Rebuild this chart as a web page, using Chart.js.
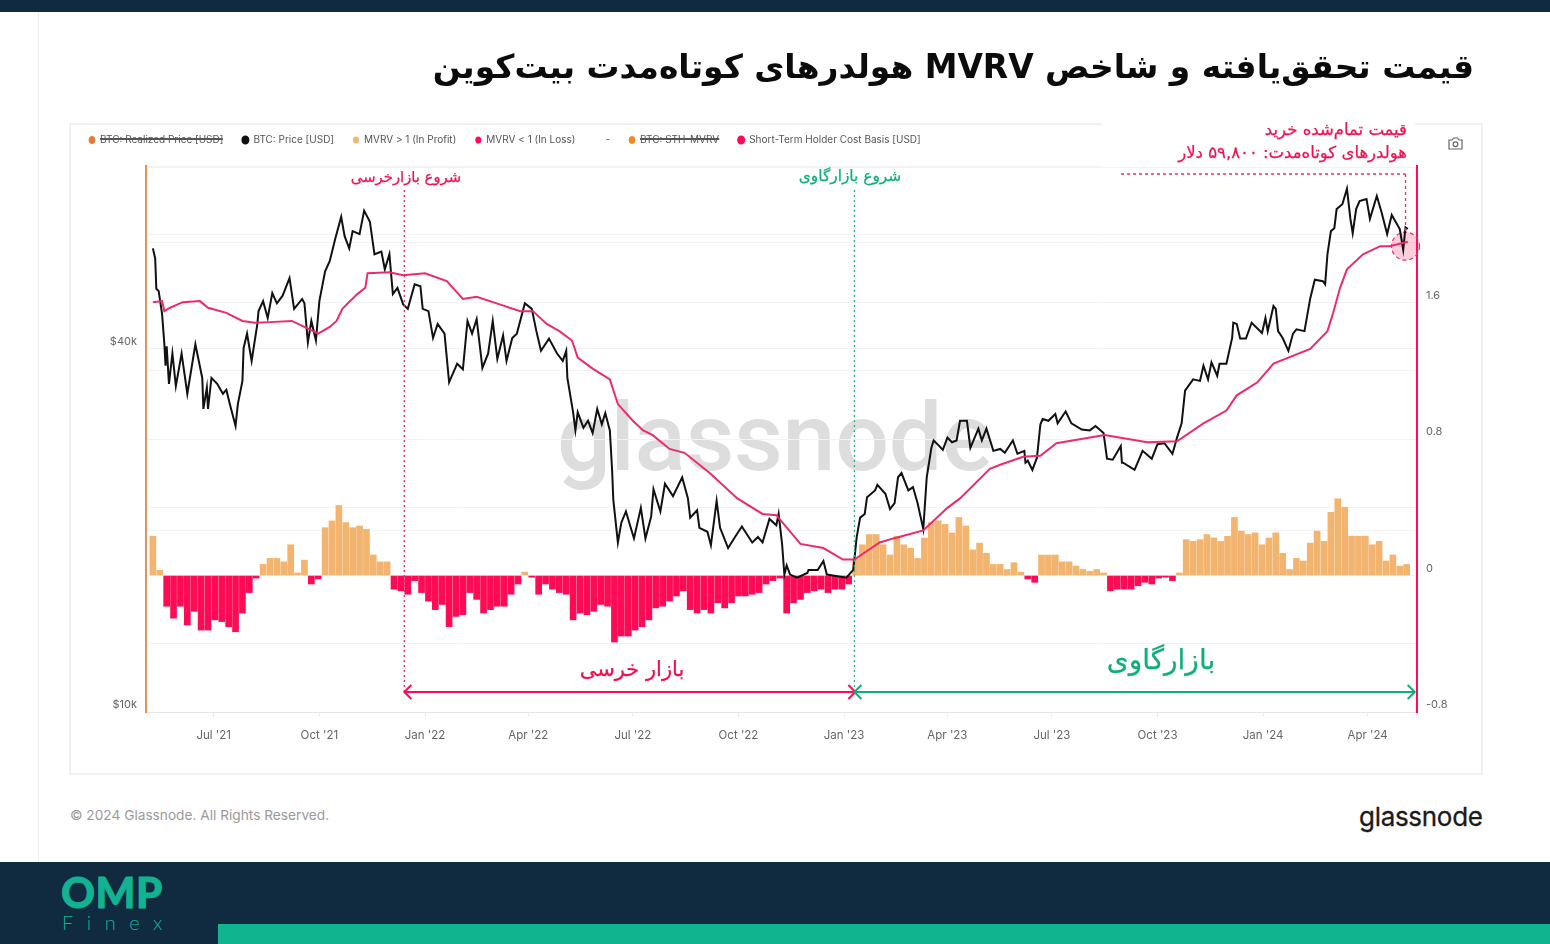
<!DOCTYPE html>
<html lang="fa">
<head>
<meta charset="utf-8">
<title>MVRV</title>
<script src="https://cdn.jsdelivr.net/npm/chart.js@4/dist/chart.umd.js"></script>
<style>
html,body{margin:0;padding:0;width:1550px;height:944px;overflow:hidden;background:#fff;}
.abs{position:absolute;white-space:nowrap;}
.fa{font-family:"DejaVu Sans","Noto Sans",sans-serif;direction:rtl;-webkit-text-stroke:0.25px currentColor;}
#chart{position:absolute;left:0;top:0;z-index:2;}
</style>
</head>
<body>
<div class="abs" style="left:0;top:0;width:1550px;height:12px;background:#102a3f"></div>
<div class="abs" style="left:0;top:862px;width:1550px;height:82px;background:#102a3f"></div>
<div class="abs" style="left:218px;top:924px;width:1332px;height:20px;background:#10b48e"></div>
<div class="abs" style="left:38px;top:12px;width:1px;height:850px;background:#eee"></div>
<div class="abs" style="left:70px;top:124px;width:1410px;height:648px;border:1px solid #eee;outline:1px solid #f4f4f4"></div>
<div class="abs" style="left:1102px;top:122px;width:313px;height:5px;background:#fff"></div>
<div class="abs" style="left:557px;top:382px;font:500 95px Roboto,sans-serif;color:#dddddd;line-height:112px;letter-spacing:-0.3px">glassnode</div>
<canvas id="chart" width="1550" height="944"></canvas>
<div class="abs" style="left:1102px;top:160px;width:314px;height:7px;background:#fff;z-index:3"></div>

<div class="abs fa" style="right:76px;top:42px;font-weight:bold;font-size:32.9px;line-height:50px;color:#0b0b0b;z-index:4;-webkit-text-stroke:0">قیمت تحقق‌یافته و شاخص MVRV هولدرهای کوتاه‌مدت بیت‌کوین</div>
<div class="abs fa" style="left:346px;width:120px;top:166px;text-align:center;font-size:14.8px;line-height:22px;color:#f0104f;z-index:4">شروع بازارخرسی</div>
<div class="abs fa" style="left:790px;width:120px;top:165px;text-align:center;font-size:15.4px;line-height:22px;color:#0fae7a;z-index:4">شروع بازارگاوی</div>
<div class="abs fa" style="left:570px;width:124px;top:654px;text-align:center;font-size:21px;line-height:30px;color:#f0104f;z-index:4">بازار خرسی</div>
<div class="abs fa" style="left:1090px;width:142px;top:642px;text-align:center;font-size:28px;line-height:36px;color:#0fae7a;z-index:4">بازارگاوی</div>
<div class="abs fa" style="right:143px;top:119px;font-size:16.5px;line-height:21px;color:#f0104f;z-index:4">قیمت تمام‌شده خرید</div>
<div class="abs fa" style="right:143px;top:142px;font-size:16.5px;line-height:21px;color:#f0104f;z-index:4">هولدرهای کوتاه‌مدت: ۵۹,۸۰۰ دلار</div>
<svg class="abs" style="left:1448px;top:137px;z-index:4" width="15" height="13" viewBox="0 0 15 13"><path d="M1 3h3l1.5-2h4L11 3h3v9H1z" fill="none" stroke="#666" stroke-width="1.2"/><circle cx="7.5" cy="7.2" r="2.4" fill="none" stroke="#666" stroke-width="1.2"/></svg>

<div class="abs" style="left:70px;top:806px;font:13.7px Inter,sans-serif;color:#9a9a9a;line-height:18px">© 2024 Glassnode. All Rights Reserved.</div>
<div class="abs" style="left:1359px;top:799px;font:400 26px Inter,sans-serif;color:#1a1a1a;line-height:36px;letter-spacing:-0.3px;-webkit-text-stroke:0.3px #1a1a1a">glassnode</div>
<div class="abs" style="left:61px;top:868px;font:900 42px/48px Lato,sans-serif;color:#12b392;letter-spacing:0.5px;-webkit-text-stroke:0.8px #12b392">OMP</div>
<div class="abs" style="left:62px;top:910px;font:300 20px/24px Lato,sans-serif;color:#12b392;letter-spacing:13.5px">Finex</div>

<script>
const tickDays = [53,145,237,327,418,510,602,692,783,875,967,1058];
const tickLabels = ["Jul '21","Oct '21","Jan '22","Apr '22","Jul '22","Oct '22","Jan '23","Apr '23","Jul '23","Oct '23","Jan '24","Apr '24"];
const leftTicks = [10,20,40,60,80];
const rightLabels = [-0.8,0,0.8,1.6];
const legendNames = ["BTC: Realized Price [USD]","BTC: Price [USD]","MVRV > 1 (In Profit)","MVRV < 1 (In Loss)","-","BTC: STH-MVRV","Short-Term Holder Cost Basis [USD]"];

// days since 9 May 2021
const priceDays = [0,2,3,5,8,10,11,12,14,17,20,25,30,37,43,44,47,48,51,56,61,64,67,72,74,78,79,82,86,91,92,96,100,104,108,113,119,123,130,132,135,138,142,145,150,154,159,164,167,171,174,180,184,189,193,199,202,206,209,213,218,222,228,233,235,240,244,248,254,258,265,270,274,278,282,287,292,296,300,305,308,313,317,324,330,334,338,345,352,357,360,361,366,368,370,375,379,383,387,391,394,398,400,401,405,408,412,419,425,429,434,436,442,446,453,461,466,468,474,476,483,486,491,494,501,507,513,522,527,531,537,543,545,548,550,552,555,561,570,571,579,584,587,604,610,613,616,620,622,629,631,638,642,646,649,652,658,662,666,671,674,678,680,685,688,692,696,700,703,709,712,719,722,726,732,738,742,749,753,759,760,762,766,770,773,775,780,786,788,795,800,809,816,821,828,831,836,843,844,845,855,862,870,875,881,888,892,896,899,906,912,915,919,922,927,929,935,940,941,944,947,952,957,966,969,971,976,978,980,984,989,993,996,1003,1008,1012,1019,1021,1023,1026,1029,1031,1036,1040,1043,1045,1048,1051,1057,1060,1066,1070,1075,1079,1086,1089,1091,1093];
// USD thousands
const priceK = [58.7,56.5,50.3,49.9,45.7,40.7,37.5,40.4,35.0,39.3,34.7,39.3,33.7,40.7,35.8,31.8,34.5,31.8,35.8,35.0,33.7,34.2,32.4,29.8,32.4,35.4,40.1,42.4,38.2,44.0,46.2,48.0,45.0,49.5,47.6,49.0,52.4,46.6,48.4,47.6,41.0,44.5,41.3,48.0,53.8,55.9,61.1,66.2,61.5,58.7,62.7,62.0,67.8,65.0,57.4,58.0,54.2,57.4,49.3,50.5,47.4,46.6,51.2,50.8,46.6,46.2,41.7,44.0,42.4,35.2,37.8,37.0,44.5,42.4,44.8,37.2,39.3,44.5,38.5,42.1,38.2,41.7,42.4,47.6,46.6,42.8,39.7,41.6,39.3,38.2,39.7,35.8,31.4,29.3,31.4,29.6,30.4,29.0,31.8,30.0,31.3,29.3,25.1,22.5,19.1,20.6,21.5,19.4,21.8,19.4,21.1,23.4,21.5,23.9,22.8,24.5,22.6,21.0,21.6,20.2,19.9,18.9,22.4,20.2,18.7,19.5,20.3,19.1,19.5,19.1,20.9,20.4,21.3,19.0,16.9,17.5,16.9,16.7,17.0,17.2,17.2,17.8,16.9,16.7,17.2,19.5,21.0,21.3,22.7,23.3,23.8,23.0,21.7,22.2,24.5,24.9,23.3,23.6,22.2,20.1,24.5,27.4,28.2,27.6,27.2,28.5,28.0,28.2,30.4,30.4,27.4,29.5,28.2,29.5,27.1,27.3,26.9,28.2,26.8,27.1,25.9,26.1,25.2,26.4,30.0,30.6,30.4,31.2,30.1,31.5,30.1,29.4,29.3,29.8,29.0,26.3,26.2,27.6,25.9,25.9,25.2,27.1,26.3,27.8,27.9,26.8,28.5,30.1,34.1,35.6,35.4,37.5,35.6,38.0,36.1,37.8,37.8,41.7,44.2,44.0,41.6,41.6,44.2,42.5,45.0,42.8,47.1,46.6,42.8,41.7,39.7,42.4,43.1,42.8,48.5,52.1,51.8,51.2,57.4,62.7,63.4,68.2,69.5,73.7,65.7,62.2,68.2,70.3,70.9,65.7,71.7,67.5,62.0,66.7,63.2,58.4,63.6,63.2];

const costDays = [0,8,10,15,26,41,48,64,78,89,102,121,131,144,154,160,165,178,185,187,206,218,237,256,270,282,302,320,331,343,354,365,370,383,398,405,418,427,435,450,463,485,509,531,543,564,584,601,611,633,645,671,692,703,729,738,758,773,787,829,866,892,915,935,944,962,976,1008,1023,1028,1034,1040,1054,1069,1077,1093];
const costK = [47.8,48.0,46.2,46.8,47.8,48.0,46.8,45.9,44.5,44.2,44.3,44.5,43.6,42.4,43.5,44.5,46.6,49.3,50.5,53.4,53.6,53.0,53.4,51.8,48.4,48.8,47.4,46.2,46.2,44.0,42.8,41.3,38.7,37.1,35.6,32.4,30.4,29.3,28.8,27.3,26.9,24.9,22.6,21.3,21.2,19.0,18.7,17.9,17.9,19.1,19.4,20.0,21.8,22.6,25.3,25.7,26.5,26.6,27.9,28.8,28.0,28.1,30.1,31.6,33.5,35.2,37.8,40.0,42.8,45.9,50.5,54.2,57.4,59.2,59.2,60.2];

// STH-MVRV minus 1, one reading per 6 days
const mvrvStepDays = 6;
const mvrv = [0.23,0.03,-0.18,-0.25,-0.18,-0.29,-0.21,-0.32,-0.32,-0.26,-0.27,-0.30,-0.33,-0.22,-0.10,-0.015,0.065,0.10,0.10,0.08,0.18,0.015,0.09,-0.05,-0.02,0.28,0.32,0.41,0.31,0.28,0.29,0.27,0.12,0.08,0.08,-0.08,-0.09,-0.11,-0.03,-0.10,-0.15,-0.20,-0.17,-0.30,-0.24,-0.23,-0.10,-0.14,-0.22,-0.20,-0.18,-0.18,-0.11,-0.05,0.02,-0.01,-0.11,-0.05,-0.08,-0.10,-0.11,-0.26,-0.22,-0.23,-0.21,-0.17,-0.18,-0.39,-0.355,-0.355,-0.32,-0.30,-0.26,-0.19,-0.18,-0.15,-0.12,-0.09,-0.20,-0.22,-0.20,-0.22,-0.16,-0.19,-0.16,-0.12,-0.12,-0.11,-0.10,-0.05,-0.03,-0.015,-0.22,-0.16,-0.14,-0.10,-0.09,-0.08,-0.10,-0.08,-0.08,-0.05,0.10,0.18,0.24,0.24,0.18,0.12,0.23,0.18,0.16,0.10,0.22,0.31,0.32,0.30,0.25,0.34,0.29,0.15,0.19,0.13,0.065,0.065,0.035,0.075,0.02,-0.02,-0.04,0.12,0.12,0.12,0.08,0.08,0.055,0.035,0.025,0.035,0.015,-0.09,-0.08,-0.08,-0.08,-0.06,-0.04,-0.05,-0.015,-0.01,-0.03,0.015,0.21,0.20,0.21,0.24,0.22,0.20,0.23,0.34,0.26,0.24,0.25,0.18,0.22,0.25,0.13,0.035,0.10,0.085,0.19,0.26,0.20,0.37,0.45,0.40,0.23,0.23,0.23,0.18,0.20,0.085,0.12,0.055,0.065];

const bearStartDay = 219, bullStartDay = 611, lastDay = 1099;
const costBasisNow = 59.2, costBasisDay = 1091;

const pink = '#ff0a55', green = '#0fae7a', costPink = '#ec2a6f', black = '#111111', gold = '#f2b46e';
const pairs = (xs, ys) => xs.map((x, i) => ({x, y: ys[i]}));
const mvrvPoints = mvrv.map((v, i) => ({x: i * mvrvStepDays, y: v}));

const annot = {
  id: 'annot',
  afterLayout(c) { c.legend.top -= 11; c.legend.bottom -= 11; },
  beforeDatasetsDraw(c) {
    const x = c.scales.x, l = c.scales.yL, ctx = c.ctx;
    ctx.save();
    ctx.beginPath();
    ctx.arc(x.getPixelForValue(costBasisDay), l.getPixelForValue(costBasisNow), 14, 0, Math.PI * 2);
    ctx.fillStyle = 'rgba(255,10,85,0.2)';
    ctx.fill();
    ctx.setLineDash([4, 3]);
    ctx.lineWidth = 1.2;
    ctx.strokeStyle = costPink;
    ctx.stroke();
    ctx.restore();
  },
  afterDatasetsDraw(c) {
    const x = c.scales.x, r = c.scales.yR, ctx = c.ctx;
    const line = (x1, y1, x2, y2) => { ctx.beginPath(); ctx.moveTo(x1, y1); ctx.lineTo(x2, y2); ctx.stroke(); };
    const xBear = x.getPixelForValue(bearStartDay), xBull = x.getPixelForValue(bullStartDay), xEnd = x.getPixelForValue(lastDay);
    const yTop = r.getPixelForValue(2.26), yArrow = r.getPixelForValue(-0.683), yDash = r.getPixelForValue(2.353);
    ctx.save();
    ctx.lineWidth = 1.3;
    ctx.setLineDash([2, 3]);
    ctx.strokeStyle = costPink; line(xBear, yTop, xBear, yArrow);
    ctx.strokeStyle = '#2ab38b'; line(xBull, yTop, xBull, yArrow);
    ctx.strokeStyle = costPink;
    const xC = x.getPixelForValue(costBasisDay);
    ctx.setLineDash([3, 3]);
    line(1121, yDash, xC, yDash);
    line(xC, yDash, xC, r.getPixelForValue(2.0));
    ctx.setLineDash([]);
    ctx.lineWidth = 2;
    const head = (px, dir) => { ctx.beginPath(); ctx.moveTo(px + dir * 7, yArrow - 7); ctx.lineTo(px, yArrow); ctx.lineTo(px + dir * 7, yArrow + 7); ctx.stroke(); };
    ctx.strokeStyle = pink;
    line(xBear, yArrow, xBull, yArrow); head(xBear, 1); head(xBull + 1, -1);
    ctx.strokeStyle = green;
    line(xBull, yArrow, xEnd, yArrow); head(xBull, 1); head(xEnd, -1);
    ctx.restore();
  }
};

new Chart(document.getElementById('chart'), {
  type: 'bar',
  plugins: [annot],
  data: {
    datasets: [
      {type:'line', label:legendNames[0], data:[], hidden:true, yAxisID:'yL', borderColor:'#e8773a', backgroundColor:'#e8773a', pointBorderColor:'#e8773a', pointRadius:0},
      {type:'line', label:legendNames[1], data:pairs(priceDays, priceK), yAxisID:'yL', borderColor:black, backgroundColor:black, pointBackgroundColor:black, pointBorderColor:black, borderWidth:2, pointRadius:0, tension:0, order:2},
      {type:'bar', label:legendNames[2], data:mvrvPoints.filter(p => p.y > 0), yAxisID:'yR', backgroundColor:gold, barThickness:6, grouped:false, order:5},
      {type:'bar', label:legendNames[3], data:mvrvPoints.filter(p => p.y < 0), yAxisID:'yR', backgroundColor:pink, barThickness:6, grouped:false, order:5},
      {type:'line', label:legendNames[4], data:[], yAxisID:'yR', borderColor:'transparent', backgroundColor:'transparent', pointBackgroundColor:'transparent', pointBorderColor:'transparent', pointRadius:0},
      {type:'line', label:legendNames[5], data:[], hidden:true, yAxisID:'yR', borderColor:'#f08a1d', backgroundColor:'#f08a1d', pointBorderColor:'#f08a1d', pointRadius:0},
      {type:'line', label:legendNames[6], data:pairs(costDays, costK), yAxisID:'yL', borderColor:costPink, backgroundColor:pink, pointBackgroundColor:pink, pointBorderColor:pink, borderWidth:2, pointRadius:0, tension:0, order:1}
    ]
  },
  options: {
    responsive:false, animation:false,
    layout:{padding:{left:70,right:68,top:127,bottom:170}},
    plugins:{
      tooltip:{enabled:false},
      legend:{position:'top',align:'start',labels:{usePointStyle:true,pointStyle:'circle',pointStyleWidth:6,boxHeight:5,boxWidth:6,padding:19,color:'#555',font:{family:'Inter',size:10},sort:(a,b)=>a.datasetIndex-b.datasetIndex}}
    },
    scales:{
      x:{type:'linear',min:-6,max:1101,offset:false,
        afterBuildTicks(s){s.ticks=tickDays.map(v=>({value:v}));},
        afterFit(s){s.height=62;},
        grid:{drawOnChartArea:false,tickLength:5,color:'#ececec',offset:false},
        border:{color:'#e6e6e6'},
        ticks:{autoSkip:false,maxRotation:0,padding:12,color:'#666',font:{family:'Inter',size:11.5},callback:v=>tickLabels[tickDays.indexOf(v)]}
      },
      yL:{type:'logarithmic',position:'left',min:10,max:80.4,
        afterBuildTicks(s){s.ticks=leftTicks.map(v=>({value:v}));},
        afterFit(s){s.width=76;},
        grid:{color:'#f3f3f3',drawTicks:false},
        border:{color:'#e8915a',width:2},
        ticks:{autoSkip:false,padding:9,color:'#666',font:{family:'Inter',size:11,lineHeight:1.27},callback:v=>(v===10||v===40)?['$'+v+'k','']:''}
      },
      yR:{type:'linear',position:'right',min:-0.8,max:2.4,
        afterFit(s){s.width=65;},
        grid:{color:'#f3f3f3',drawTicks:false},
        border:{color:pink,width:2},
        ticks:{stepSize:0.4,autoSkip:false,padding:9,color:'#666',font:{family:'Inter',size:11,lineHeight:1.27},
          callback:v=>{const t=Math.round(v*10)/10;return rightLabels.includes(t)?[String(t),'']:'';}}
      }
    }
  }
});
</script>
</body>
</html>
